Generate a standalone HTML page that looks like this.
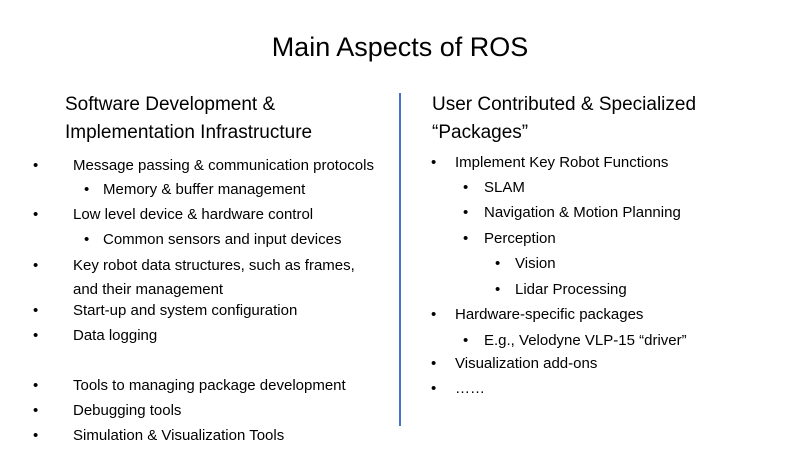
<!DOCTYPE html>
<html><head><meta charset="utf-8"><style>
body{margin:0;width:800px;height:450px;background:#fff;position:relative;overflow:hidden;font-family:"Liberation Sans",sans-serif;color:#000}
.t{position:absolute;white-space:nowrap;font-size:15px;line-height:18px}
.h{position:absolute;white-space:nowrap;font-size:19px;line-height:22px}
.b{position:absolute;font-size:15px;line-height:18px}
</style></head><body>
<div style="position:absolute;top:30px;left:0;width:800px;text-align:center;font-size:27px;line-height:34px">Main Aspects of ROS</div>
<div style="position:absolute;left:399px;top:93px;width:2px;height:333px;background:#4472c4"></div>

<div class="h" style="left:65px;top:94px">Software Development &amp;</div>
<div class="h" style="left:65px;top:122px">Implementation Infrastructure</div>

<div class="b" style="left:33px;top:157px">•</div><div class="t" style="left:73px;top:157px">Message passing &amp; communication protocols</div>
<div class="b" style="left:84px;top:181px">•</div><div class="t" style="left:103px;top:181px">Memory &amp; buffer management</div>
<div class="b" style="left:33px;top:206px">•</div><div class="t" style="left:73px;top:206px">Low level device &amp; hardware control</div>
<div class="b" style="left:84px;top:231px">•</div><div class="t" style="left:103px;top:231px">Common sensors and input devices</div>
<div class="b" style="left:33px;top:257px">•</div><div class="t" style="left:73px;top:257px">Key robot data structures, such as frames,</div>
<div class="t" style="left:73px;top:281px">and their management</div>
<div class="b" style="left:33px;top:302px">•</div><div class="t" style="left:73px;top:302px">Start-up and system configuration</div>
<div class="b" style="left:33px;top:327px">•</div><div class="t" style="left:73px;top:327px">Data logging</div>
<div class="b" style="left:33px;top:377px">•</div><div class="t" style="left:73px;top:377px">Tools to managing package development</div>
<div class="b" style="left:33px;top:402px">•</div><div class="t" style="left:73px;top:402px">Debugging tools</div>
<div class="b" style="left:33px;top:427px">•</div><div class="t" style="left:73px;top:427px">Simulation &amp; Visualization Tools</div>

<div class="h" style="left:432px;top:94px">User Contributed &amp; Specialized</div>
<div class="h" style="left:432px;top:122px">“Packages”</div>

<div class="b" style="left:431px;top:154px">•</div><div class="t" style="left:455px;top:154px">Implement Key Robot Functions</div>
<div class="b" style="left:463px;top:179px">•</div><div class="t" style="left:484px;top:179px">SLAM</div>
<div class="b" style="left:463px;top:204px">•</div><div class="t" style="left:484px;top:204px">Navigation &amp; Motion Planning</div>
<div class="b" style="left:463px;top:230px">•</div><div class="t" style="left:484px;top:230px">Perception</div>
<div class="b" style="left:495px;top:255px">•</div><div class="t" style="left:515px;top:255px">Vision</div>
<div class="b" style="left:495px;top:281px">•</div><div class="t" style="left:515px;top:281px">Lidar Processing</div>
<div class="b" style="left:431px;top:306px">•</div><div class="t" style="left:455px;top:306px">Hardware-specific packages</div>
<div class="b" style="left:463px;top:332px">•</div><div class="t" style="left:484px;top:332px">E.g., Velodyne VLP-15 “driver”</div>
<div class="b" style="left:431px;top:355px">•</div><div class="t" style="left:455px;top:355px">Visualization add-ons</div>
<div class="b" style="left:431px;top:380px">•</div><div class="t" style="left:455px;top:380px">……</div>
</body></html>
